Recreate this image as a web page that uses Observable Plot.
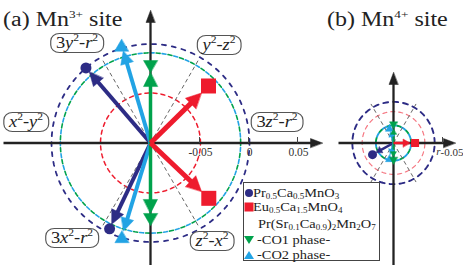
<!DOCTYPE html>
<html><head><meta charset="utf-8">
<script src="https://cdn.jsdelivr.net/npm/d3@7"></script>
<script src="https://cdn.jsdelivr.net/npm/@observablehq/plot@0.6"></script>
<style>
body{margin:0;background:#fff;}
#wrap{position:relative;width:463px;height:265px;overflow:hidden;font-family:"Liberation Serif","Times New Roman",serif;color:#222;}
#wrap svg{display:block;}
.title{position:absolute;font-size:20px;line-height:22px;white-space:nowrap;transform-origin:0 50%;transform:scaleX(1.2);}
.title sup{font-size:11px;line-height:0;vertical-align:8px;}
.orb{position:absolute;white-space:nowrap;background:#fff;border:1.2px solid #555;border-radius:8px;padding:0 4px;font-size:16px;line-height:18px;transform:translate(-50%,-50%) scaleX(1.15);}
.orb sup{font-size:10px;line-height:0;vertical-align:7px;}
#legend{position:absolute;left:243px;top:182px;width:137px;height:79px;border:1px solid #444;background:#fff;box-sizing:border-box;}
.lrow{position:absolute;white-space:nowrap;font-size:12px;line-height:11px;transform-origin:0 50%;transform:translateY(-50%) scaleX(1.2);}
.lrow sub{font-size:7.5px;line-height:0;vertical-align:-2px;}
.lsym{position:absolute;line-height:0;}
</style></head>
<body>
<div id="wrap"></div>
<script>
// ---------------- data ----------------
const panelIds = ["a", "b"];
const panelLetters = ["(a)", "(b)"];
const panelIons = ["Mn", "Mn"];
const panelCharges = ["3+", "4+"];

const seriesNames = ["Pr0.5Ca0.5MnO3", "Eu0.5Ca1.5MnO4", "-CO1 phase-", "-CO2 phase-"];
const groupName = "Pr(Sr0.1Ca0.9)2Mn2O7";

// data points: panel, series index, angle (deg), radial value r
const pointPanel  = ["a","a","a","a","a","a","a","a","b","b","b","b","b","b"];
const pointSeries = [0, 0, 1, 1, 2, 2, 3, 3, 0, 1, 2, 2, 3, 3];
const pointAngle  = [130.7, 244.5, 44.5, 316.5, 90, 270, 106.5, 253, 209, 0, 90, 270, 105, 255];
const pointR      = [0.001, -0.003, -0.017, -0.018, -0.022, -0.022, 0.004, 0.000,
                     -0.0755, -0.078, -0.082, -0.082, -0.084, -0.084];

// dashed circles (mean radius per series)
const circlePanel  = ["a","a","a","a","b","b","b","b"];
const circleSeries = [0, 1, 2, 3, 0, 1, 2, 3];
const circleR      = [0.001, -0.049, -0.008, -0.008, -0.058, -0.068, -0.082, -0.082];

// orbital labels of panel (a)
const orbitalNames  = ["3z²-r²", "y²-z²", "3y²-r²", "x²-y²", "3x²-r²", "z²-x²"];
const orbitalAngles = [9, 54.5, 126.4, 170.8, 231, 302];
const orbitalR      = [0.031, 0.022, 0.026, 0.028, 0.026, 0.019];

// gray guide directions and their radial extent per panel
const guideAngles = [60, 120, 240, 300];
const guideR = [0.0, -0.054];

// radial axis ticks
const ticksA = [-0.05, 0, 0.05];
const tickLabelsA = ["-0.05", "0", "0.05"];
const ticksB = [-0.05];
const tickLabelsB = ["-0.05"];

// ---------------- styles / layout ----------------
const W = 463, H = 265;
const K = 980;          // pixels per unit of r
const R0 = -0.1;        // r value at the pole
const CYPX = 142.5;
const CX = {a: 0, b: 243 / K};
const colors = ["#2d2c85", "#ee1b2d", "#00a24c", "#22a3e4"];
const markerSym = ["circle", "square", "down", "up"];
const drawOrder = [0, 3, 2, 1];
const SZ = {
  a: {lw:[4,5,3.5,4], hl:[14,15,14,13], hw:[6.5,7.5,7,6.5], gap:[5,10,6,6], circ:5.5, sq:15, tw:14, th:12},
  b: {lw:[2.5,2.5,2,2], hl:[6,7,5,5], hw:[3.5,4,3,3], gap:[4,5,4,4], circ:4.5, sq:8, tw:8, th:7}
};
const circleStyle = [
  {w:1.8, dash:"4,6", off:0, op:1}, {w:1.5, dash:"4,4", off:0, op:1},
  {w:1.6, dash:"4,8", off:0, op:1}, {w:1.6, dash:"4,8", off:6, op:1},
  {w:1.9, dash:"5,5", off:0, op:1}, {w:1.2, dash:"4,4", off:0, op:0.6},
  {w:1.9, dash:"4,6", off:0, op:1}, {w:1.9, dash:"4,6", off:5, op:1}
];
const axisExt = {a:{l:-147, r:172, t:132.5, b:-125}, b:{l:-55, r:62, t:70.5, b:-125}};

const rad = d => d * Math.PI / 180;
const u = v => v / K;
const pt = (p, ang, rho) => ({x: CX[p] + rho * Math.cos(rad(ang)), y: rho * Math.sin(rad(ang))});

// ---------------- geometry from data ----------------
const circlePts = [];
circleR.forEach((r, i) => {
  for (let k = 0; k < 144; k++) {
    const m = pt(circlePanel[i], k * 2.5, r - R0);
    circlePts.push({x: m.x, y: m.y, id: i});
  }
});

const guides = [];
panelIds.forEach((p, pi) => guideAngles.forEach(a => {
  const c = pt(p, a, 0), e = pt(p, a, guideR[pi] - R0);
  guides.push({x1: c.x, y1: c.y, x2: e.x, y2: e.y});
}));

const polys = [];   // filled triangles: {id, x, y, color}
let pid = 0;
function dirTri(t, a, L, hw, color) {
  const cx = Math.cos(rad(a)), sy = Math.sin(rad(a));
  const bx = t.x - cx * L, by = t.y - sy * L, nx = -sy, ny = cx;
  const id = pid++;
  polys.push({id, x: t.x, y: t.y, color}, {id, x: bx + nx * hw, y: by + ny * hw, color}, {id, x: bx - nx * hw, y: by - ny * hw, color});
}
function vTri(m, w, h, down, color) {
  const id = pid++, s = down ? -1 : 1;
  polys.push({id, x: m.x, y: m.y + s * h / 2, color}, {id, x: m.x - w / 2, y: m.y - s * h / 2, color}, {id, x: m.x + w / 2, y: m.y - s * h / 2, color});
}

// axes
const axisLines = [];
panelIds.forEach(p => {
  const e = axisExt[p];
  axisLines.push({x1: CX[p] + u(e.l), y1: 0, x2: CX[p] + u(e.r - 8), y2: 0});
  axisLines.push({x1: CX[p], y1: u(e.b), x2: CX[p], y2: u(e.t - 8)});
  dirTri({x: CX[p] + u(e.r), y: 0}, 0, u(12), u(4.5), "#222");
  dirTri({x: CX[p], y: u(e.t)}, 90, u(12), u(4.5), "#222");
});

const tickData = [];
ticksA.forEach((v, i) => tickData.push({x: CX.a + v - R0, label: tickLabelsA[i], p: "a"}));
ticksB.forEach((v, i) => tickData.push({x: CX.b + v - R0, label: tickLabelsB[i], p: "b"}));

const arrowLines = [], dots = [], squares = [];
pointPanel.forEach((p, i) => {
  const s = pointSeries[i], a = pointAngle[i], rho = pointR[i] - R0, S = SZ[p], col = colors[s];
  const tipRho = rho - u(S.gap[s]);
  const c = pt(p, a, 0), e = pt(p, a, tipRho - u(S.hl[s]) * 0.7), t = pt(p, a, tipRho), m = pt(p, a, rho);
  arrowLines.push({x1: c.x, y1: c.y, x2: e.x, y2: e.y, s, p});
  dirTri(t, a, u(S.hl[s]), u(S.hw[s]), col);
  const sym = markerSym[s];
  if (sym === "circle") dots.push({x: m.x, y: m.y, r: S.circ});
  else if (sym === "square") squares.push({x: m.x, y: m.y, r: S.sq / Math.sqrt(Math.PI)});
  else vTri(m, u(S.tw), u(S.th), sym === "down", col);
});

// ---------------- marks ----------------
const marks = [];
circleR.forEach((r, i) => {
  const st = circleStyle[i];
  marks.push(Plot.line(circlePts.filter(d => d.id === i), {
    x: "x", y: "y", curve: "linear-closed", stroke: colors[circleSeries[i]],
    strokeWidth: st.w, strokeDasharray: st.dash, strokeDashoffset: st.off, strokeOpacity: st.op
  }));
});
marks.push(Plot.link(guides, {x1: "x1", y1: "y1", x2: "x2", y2: "y2", stroke: "#666", strokeWidth: 1, strokeDasharray: "4,3"}));
marks.push(Plot.link(axisLines, {x1: "x1", y1: "y1", x2: "x2", y2: "y2", stroke: "#222", strokeWidth: 2.3}));
marks.push(Plot.link(tickData, {x1: "x", x2: "x", y1: 0, y2: u(6), stroke: "#444", strokeWidth: 1}));
marks.push(Plot.text(tickData.filter(d => d.p === "a"), {x: "x", y: 0, text: "label", dy: 9, dx: 1, fontSize: 11.5, fill: "#333"}));
marks.push(Plot.text(tickData.filter(d => d.p === "b"), {x: "x", y: 0, text: "label", dy: 9, dx: -2, textAnchor: "start", fontSize: 11, fill: "#333"}));
marks.push(Plot.text(tickData.filter(d => d.p === "b"), {x: "x", y: 0, text: () => "r", dy: 8, dx: -4, fontStyle: "italic", fontSize: 11, fill: "#333"}));

drawOrder.forEach(s => {
  panelIds.forEach(p => {
    const dat = arrowLines.filter(d => d.s === s && d.p === p);
    if (dat.length) marks.push(Plot.link(dat, {x1: "x1", y1: "y1", x2: "x2", y2: "y2", stroke: colors[s], strokeWidth: SZ[p].lw[s]}));
  });
});
["#222", ...drawOrder.map(s => colors[s])].forEach(col => {
  const dat = polys.filter(d => d.color === col);
  if (dat.length) marks.push(Plot.line(dat, {x: "x", y: "y", z: "id", curve: "linear-closed", fill: col, stroke: col, strokeWidth: 0.5}));
});
marks.push(Plot.dot(dots, {x: "x", y: "y", r: "r", fill: colors[0], stroke: "none"}));
marks.push(Plot.dot(squares, {x: "x", y: "y", r: "r", symbol: "square", fill: colors[1], stroke: "none"}));

const plot = Plot.plot({
  width: W, height: H,
  marginTop: 0, marginRight: 0, marginBottom: 0, marginLeft: 0,
  x: {domain: [-150 / K, (W - 150) / K], axis: null},
  y: {domain: [-(H - CYPX) / K, CYPX / K], axis: null},
  r: {type: "identity"},
  style: {background: "transparent", fontFamily: '"Liberation Serif", "Times New Roman", serif', overflow: "visible"},
  marks
});
const wrap = document.getElementById("wrap");
wrap.appendChild(plot);

// ---------------- overlays positioned through the plot scales ----------------
const sx = plot.scale("x"), sy = plot.scale("y");
const fx = sx.apply ? v => sx.apply(v) : d3.scaleLinear(sx.domain, sx.range);
const fy = sy.apply ? v => sy.apply(v) : d3.scaleLinear(sy.domain, sy.range);

const rich = s => s.replace(/([a-z])²/g, "<i>$1</i><sup>2</sup>");
orbitalNames.forEach((n, i) => {
  const m = pt("a", orbitalAngles[i], orbitalR[i] - R0);
  const d = document.createElement("div");
  d.className = "orb";
  d.innerHTML = rich(n);
  d.style.left = fx(m.x) + "px";
  d.style.top = fy(m.y) + "px";
  wrap.appendChild(d);
});

panelIds.forEach((p, i) => {
  const d = document.createElement("div");
  d.className = "title";
  d.innerHTML = `${panelLetters[i]} ${panelIons[i]}<sup>${panelCharges[i]}</sup>&nbsp;site`;
  d.style.left = (i === 0 ? 3 : 327) + "px";
  d.style.top = "8px";
  wrap.appendChild(d);
});

// legend
const chem = s => s.replace(/(\d+(?:\.\d+)?)/g, "<sub>$1</sub>");
function symSvg(kind, color) {
  let shape = "";
  if (kind === "circle") shape = `<circle cx="6" cy="6" r="4" fill="${color}"/>`;
  if (kind === "square") shape = `<rect x="1.5" y="1.5" width="9" height="9" fill="${color}"/>`;
  if (kind === "down") shape = `<path d="M1,2 L11,2 L6,10 Z" fill="${color}"/>`;
  if (kind === "up") shape = `<path d="M1,10 L11,10 L6,2 Z" fill="${color}"/>`;
  return `<svg width="12" height="12">${shape}</svg>`;
}
const legend = document.createElement("div");
legend.id = "legend";
const rows = [
  {sym: markerSym[0], color: colors[0], html: chem(seriesNames[0]), cy: 10, left: 9},
  {sym: markerSym[1], color: colors[1], html: chem(seriesNames[1]), cy: 24, left: 9},
  {sym: null, html: chem(groupName), cy: 41, left: 14},
  {sym: markerSym[2], color: colors[2], html: seriesNames[2], cy: 57, left: 13},
  {sym: markerSym[3], color: colors[3], html: seriesNames[3], cy: 72, left: 13}
];
rows.forEach(r => {
  if (r.sym) {
    const s = document.createElement("div");
    s.className = "lsym";
    s.style.left = "-1px";
    s.style.top = (r.cy - 6) + "px";
    s.innerHTML = symSvg(r.sym, r.color);
    legend.appendChild(s);
  }
  const t = document.createElement("div");
  t.className = "lrow";
  t.style.left = r.left + "px";
  t.style.top = r.cy + "px";
  t.innerHTML = r.html;
  legend.appendChild(t);
});
wrap.appendChild(legend);
</script>
</body></html>
